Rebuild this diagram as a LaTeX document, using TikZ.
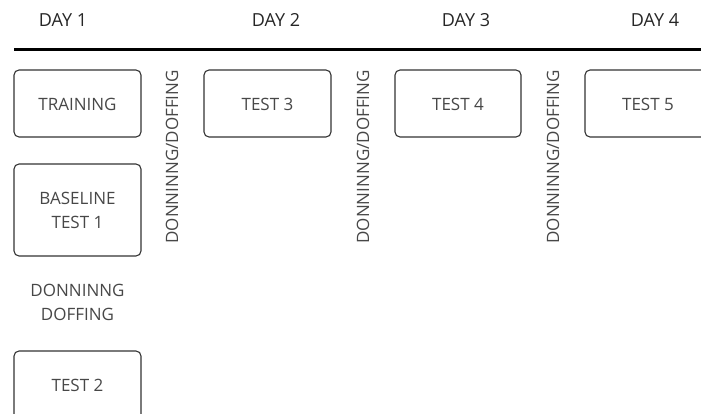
\documentclass[tikz,border=0pt]{standalone}
\usepackage{fontspec}
\setmainfont{Open Sans}
\begin{document}
\begin{tikzpicture}[x=1pt,y=-1pt,
  every node/.style={text=black!72, font=\fontsize{17}{24}\selectfont},
  daylabel/.style={text=black!85, font=\fontsize{18}{22}\selectfont},
  testbox/.style={draw=black!80, line width=1.1pt, rounded corners=5pt, align=center},
  vnote/.style={rotate=90, anchor=east, inner sep=0pt}]
\useasboundingbox (0,0) rectangle (701,414);
\clip (0,0) rectangle (701,414);

% day headings and time line
\node[daylabel] (d1) at (63,20) {DAY 1};
\node[daylabel] (d2) at (276,20) {DAY 2};
\node[daylabel] (d3) at (466,20) {DAY 3};
\node[daylabel] (d4) at (655,20) {DAY 4};
\draw[line width=3pt, black] (14,50) -- (705,50);

% day 1 sessions
\draw[testbox] (14,70) rectangle (141,137);
\node (training) at (77.5,104) {TRAINING};
\draw[testbox] (14,164) rectangle (141,256);
\node[align=center] (baseline) at (77.5,210) {BASELINE\\TEST 1};
\node[align=center] (don1) at (77.5,302) {DONNINNG\\DOFFING};
\draw[testbox] (14,351) rectangle (141,430);
\node (test2) at (77.5,385) {TEST 2};

% donning/doffing between days
\node[vnote] (don2) at (172,70) {DONNINNG/DOFFING};
\node[vnote] (don3) at (363,70) {DONNINNG/DOFFING};
\node[vnote] (don4) at (553,70) {DONNINNG/DOFFING};

% later days
\draw[testbox] (204,70) rectangle (331,137);
\node (test3) at (267.5,104) {TEST 3};
\draw[testbox] (395,70) rectangle (521,137);
\node (test4) at (458,104) {TEST 4};
\draw[testbox] (585,70) rectangle (712,137);
\node (test5) at (648,104) {TEST 5};
\end{tikzpicture}
\end{document}
